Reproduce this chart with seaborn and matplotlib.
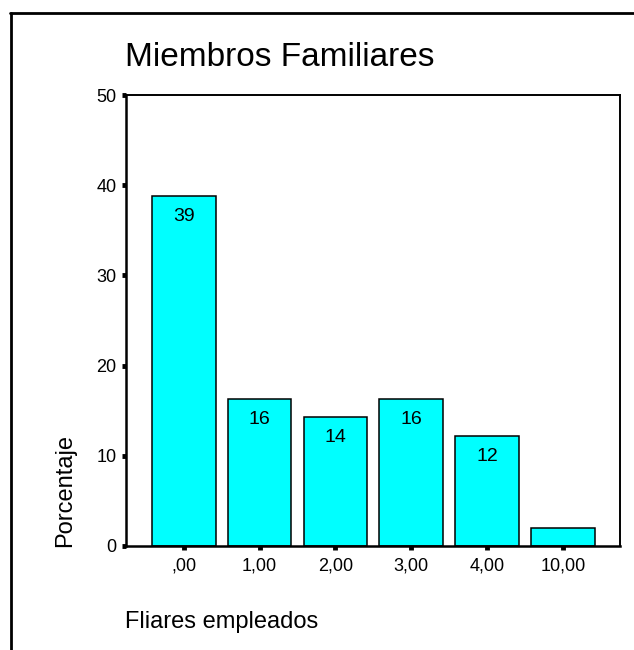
import matplotlib
matplotlib.use('Agg')
import matplotlib.pyplot as plt
import seaborn as sns
import pandas as pd
from matplotlib.lines import Line2D

# Values (percent of cases)
categories = [',00', '1,00', '2,00', '3,00', '4,00', '10,00']
percent = [38.8, 16.3, 14.3, 16.3, 12.2, 2.0]
bar_labels = ['39', '16', '14', '16', '12', '']

data = pd.DataFrame({'Fliares empleados': categories, 'Porcentaje': percent})

sns.set_style('white')
plt.rcParams['font.family'] = ['Liberation Sans', 'DejaVu Sans']
plt.rcParams['text.color'] = 'black'

fig = plt.figure(figsize=(6.34, 6.5), dpi=100)
ax = fig.add_axes([126 / 634, 1 - 546 / 650, 494 / 634, 451 / 650])

sns.barplot(data=data, x='Fliares empleados', y='Porcentaje', order=categories,
            color='#00ffff', saturation=1, edgecolor='black', linewidth=1.1,
            width=0.84, ax=ax)

ax.bar_label(ax.containers[0], labels=bar_labels, padding=-21, fontsize=14, color='black')

ax.set_ylim(0, 50)
ax.set_xlim(-0.76, 5.75)
ax.set_yticks([0, 10, 20, 30, 40, 50])
ax.tick_params(axis='both', direction='out', length=3, width=3.5, colors='black',
               labelsize=13, pad=4, bottom=True, left=True)
ax.tick_params(axis='x', pad=5)

for side in ['left', 'bottom']:
    ax.spines[side].set_linewidth(1.8)
for side in ['top', 'right']:
    ax.spines[side].set_linewidth(1.4)
for s in ax.spines.values():
    s.set_color('black')
    s.set_visible(True)

ax.set_xlabel('')
ax.set_ylabel('')
fig.text(65 / 634, 1 - 547 / 650, 'Porcentaje', rotation=90, ha='center', va='bottom',
         fontsize=17, color='black')
fig.text(125 / 634, 1 - 622 / 650, 'Fliares empleados', ha='left', va='center',
         fontsize=17, color='black')
fig.text(125 / 634, 1 - 58 / 650, 'Miembros Familiares', ha='left', va='center',
         fontsize=24, color='black')

# outer frame (left and top edges visible)
fig.add_artist(Line2D([11 / 634, 11 / 634], [0, 1 - 13 / 650], color='black', linewidth=2,
                      transform=fig.transFigure))
fig.add_artist(Line2D([10 / 634, 1], [1 - 13 / 650, 1 - 13 / 650], color='black', linewidth=2,
                      transform=fig.transFigure))

fig.savefig('out.png', dpi=100)
